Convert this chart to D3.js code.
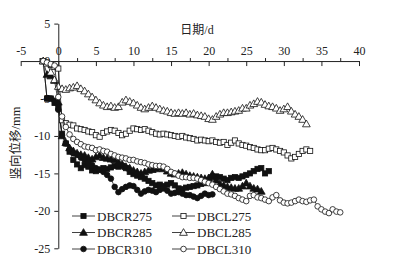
<!DOCTYPE html>
<html lang="zh">
<head>
<meta charset="UTF-8">
<title>竖向位移</title>
<script src="https://d3js.org/d3.v7.min.js"></script>
<style>
  body { margin: 0; background: #fff; }
  svg { display: block; }
  text { font-family: "Liberation Serif", "Times New Roman", serif; fill: #222; }
  .cjk { font-family: "Noto Sans CJK SC", sans-serif; }
</style>
</head>
<body>
<svg id="chart" width="403" height="271"></svg>
<script>
// days: every series is sampled every half day from day -2
const dayStart = -2;
const dayStep = 0.5;

const xTicks = [-5, 0, 5, 10, 15, 20, 25, 30, 35, 40];
const yTicks = [5, 0, -5, -10, -15, -20, -25];

const dbcr275 = [0, -5.0, -5.0, -5.6, -6.2, -9.7, -11.0, -12.1, -13.2, -13.8, -14.3, -13.9, -14.1, -14.6,
  -14.7, -14.5, -14.3, -14.4, -14.2, -14.0, -14.1, -14.0, -14.3, -14.8, -15.1, -15.3, -15.5, -15.7,
  -16.0, -16.3, -16.6, -16.5, -16.7, -16.5, -16.3, -16.6, -17.0, -17.1, -16.9, -16.8, -16.7, -16.6,
  -16.4, -16.3, -16.0, -15.5, -15.4, -15.5, -15.7, -15.9, -15.6, -15.5, -15.6, -15.4, -15.2, -15.0,
  -14.7, -14.4, -14.3, -15.0, -14.7];

const dbcr285 = [0, -1.8, -2.0, -2.6, -5.5, -10.0, -10.9, -11.6, -12.0, -12.3, -12.5, -12.6, -12.9, -13.1,
  -12.8, -12.6, -12.9, -13.0, -13.1, -13.2, -13.5, -13.8, -14.1, -14.3, -14.6, -14.8, -15.0, -14.8,
  -14.6, -14.5, -14.4, -14.2, -14.4, -14.7, -15.0, -15.1, -15.0, -14.9, -15.1, -15.3, -15.4, -15.5,
  -15.6, -15.7, -15.6, -15.1, -15.9, -16.4, -16.6, -16.8, -16.9, -17.0, -17.0, -16.7, -16.3, -16.7,
  -17.0, -17.1, -17.4];

const dbcr310 = [0, -5.0, -5.0, -5.3, -6.5, -9.9, -11.0, -11.8, -12.3, -12.5, -12.9, -13.2, -13.5, -13.9,
  -14.3, -14.5, -14.8, -15.2, -15.7, -16.8, -17.5, -17.1, -16.8, -16.6, -16.7, -17.2, -17.7, -17.4,
  -17.2, -17.3, -17.5, -17.2, -17.0, -17.3, -17.7, -17.6, -17.5, -17.7, -17.9, -17.9, -18.1, -18.3,
  -18.0, -17.7, -17.9, -17.8];

const dbcl275 = [0, -0.2, -0.5, -0.8, -1.0, -7.9, -8.3, -8.5, -8.6, -9.0, -9.1, -9.2, -9.4, -9.5,
  -9.9, -10.1, -9.6, -9.4, -9.2, -9.3, -9.6, -9.9, -9.7, -9.3, -9.0, -9.1, -9.2, -9.1,
  -9.3, -9.5, -9.7, -9.8, -9.7, -9.8, -9.9, -10.0, -10.1, -10.0, -10.2, -10.3, -10.4, -10.6,
  -10.5, -10.6, -10.7, -10.6, -10.8, -10.9, -10.8, -11.2, -10.9, -10.6, -11.0, -11.2, -11.3, -11.5,
  -11.6, -11.8, -11.9, -11.9, -11.7, -11.6, -11.8, -12.0, -12.2, -12.6, -13.0, -12.8, -12.4, -12.0,
  -11.8, -12.0];

const dbcl285 = [0, -0.3, -1.5, -2.5, -3.4, -3.7, -3.8, -3.6, -3.5, -3.3, -3.7, -4.0, -4.4, -4.8,
  -5.2, -5.6, -5.9, -6.1, -6.0, -6.2, -6.1, -5.5, -5.2, -5.4, -5.6, -5.9, -6.2, -6.4,
  -6.2, -6.0, -6.2, -6.4, -6.6, -6.7, -6.9, -7.0, -6.9, -7.0, -6.9, -7.1, -7.0, -7.2,
  -7.3, -7.4, -7.7, -7.8, -7.4, -7.1, -6.9, -6.9, -6.8, -6.7, -6.6, -6.3, -6.3, -5.9,
  -5.7, -5.4, -5.5, -5.8, -6.0, -6.1, -6.3, -6.6, -6.4, -6.1, -6.7, -7.1, -7.4, -7.8,
  -8.4];

const dbcl310 = [0, -0.2, -0.4, -0.6, -4.8, -7.4, -8.8, -9.8, -10.4, -10.8, -11.1, -11.4, -11.5, -11.6,
  -11.9, -11.8, -12.0, -12.1, -12.4, -12.6, -12.8, -12.9, -13.0, -13.2, -13.2, -13.4, -13.5, -13.6,
  -13.8, -13.9, -14.0, -14.0, -14.1, -14.4, -14.8, -15.0, -15.3, -15.5, -15.5, -15.6, -15.6, -15.7,
  -15.9, -16.1, -16.3, -16.5, -16.8, -17.1, -17.4, -17.7, -17.8, -18.0, -18.3, -18.5, -18.7, -18.0,
  -17.9, -18.2, -18.3, -18.5, -18.7, -18.2, -17.9, -18.6, -18.9, -19.0, -18.9, -18.7, -18.5, -18.7,
  -18.8, -18.6, -18.5, -19.4, -19.8, -20.1, -20.3, -19.8, -20.1, -20.2];

const seriesNames = ["DBCR275", "DBCR285", "DBCR310", "DBCL275", "DBCL285", "DBCL310"];
const seriesValues = [dbcr275, dbcr285, dbcr310, dbcl275, dbcl285, dbcl310];
const seriesShapes = ["square", "triangle", "circle", "square", "triangle", "circle"];
const seriesFilled = [true, true, true, false, false, false];

const svg = d3.select("#chart");

const x = d3.scaleLinear().domain([-5, 40]).range([20.7, 359]);
const y = d3.scaleLinear().domain([-25, 5]).range([248.3, 23.6]);

// x axis sits on y = 0, labels above
const xAxis = svg.append("g")
  .attr("transform", "translate(0," + y(0) + ")")
  .call(d3.axisTop(x).tickValues(xTicks).tickSizeInner(-5).tickSizeOuter(0)
    .tickPadding(6).tickFormat(d => String(d)));
xAxis.select(".domain").attr("stroke", "#222");
xAxis.selectAll(".tick line").attr("stroke", "#222");
xAxis.selectAll("text").attr("font-size", 12).style("font-family", "Liberation Serif, serif");

// minor ticks
const minor = d3.range(-2.5, 40, 5);
svg.append("g")
  .attr("transform", "translate(0," + y(0) + ")")
  .call(d3.axisTop(x).tickValues(minor).tickSize(3).tickFormat(""))
  .call(g => g.select(".domain").remove())
  .selectAll("line").attr("stroke", "#222");

// y axis sits on x = 0
const yAxis = svg.append("g")
  .attr("transform", "translate(" + x(0) + ",0)")
  .call(d3.axisLeft(y).tickValues(yTicks).tickSizeInner(4).tickSizeOuter(0)
    .tickPadding(4).tickFormat(d => String(d)));
yAxis.select(".domain").attr("stroke", "#222");
yAxis.selectAll(".tick line").attr("stroke", "#222");
yAxis.selectAll("text").attr("font-size", 12).style("font-family", "Liberation Serif, serif");

// axis titles
svg.append("text")
  .attr("x", 197).attr("y", 34)
  .attr("text-anchor", "middle")
  .attr("font-size", 12)
  .html('<tspan class="cjk">日期</tspan>/d');

svg.append("text")
  .attr("transform", "translate(20,143) rotate(-90)")
  .attr("text-anchor", "middle")
  .attr("font-size", 12.5)
  .html('<tspan class="cjk">竖向位移</tspan>/mm');

function drawMarker(g, shape, filled, cx, cy) {
  const fill = filled ? "#111" : "#fff";
  if (shape === "square") {
    g.append("rect").attr("x", cx - 2.6).attr("y", cy - 2.6).attr("width", 5.2).attr("height", 5.2)
      .attr("fill", fill).attr("stroke", "#111").attr("stroke-width", 0.8);
  } else if (shape === "triangle") {
    g.append("path")
      .attr("d", d3.symbol().type(d3.symbolTriangle).size(26)())
      .attr("transform", "translate(" + cx + "," + (cy + 0.6) + ")")
      .attr("fill", fill).attr("stroke", "#111").attr("stroke-width", 0.8);
  } else {
    g.append("circle").attr("cx", cx).attr("cy", cy).attr("r", 2.8)
      .attr("fill", fill).attr("stroke", "#111").attr("stroke-width", 0.8);
  }
}

const line = d3.line()
  .x((d, i) => x(dayStart + i * dayStep))
  .y(d => y(d));

const plot = svg.append("g");
seriesValues.forEach((vals, k) => {
  const g = plot.append("g");
  g.append("path")
    .attr("d", line(vals))
    .attr("fill", "none")
    .attr("stroke", "#111")
    .attr("stroke-width", 0.8);
  vals.forEach((v, i) => drawMarker(g, seriesShapes[k], seriesFilled[k], x(dayStart + i * dayStep), y(v)));
});

// legend
const legendRows = [216, 232.5, 249];
const legendCols = [72, 172];
seriesNames.forEach((name, k) => {
  const col = k < 3 ? 0 : 1;
  const row = k % 3;
  const lx = legendCols[col], ly = legendRows[row];
  const g = svg.append("g");
  g.append("line").attr("x1", lx).attr("x2", lx + 23).attr("y1", ly).attr("y2", ly)
    .attr("stroke", "#111").attr("stroke-width", 0.8);
  drawMarker(g, seriesShapes[k], seriesFilled[k], lx + 11.5, ly);
  g.append("text").attr("x", lx + 25).attr("y", ly + 4.5)
    .attr("font-size", 13).text(name);
});
</script>
</body>
</html>
